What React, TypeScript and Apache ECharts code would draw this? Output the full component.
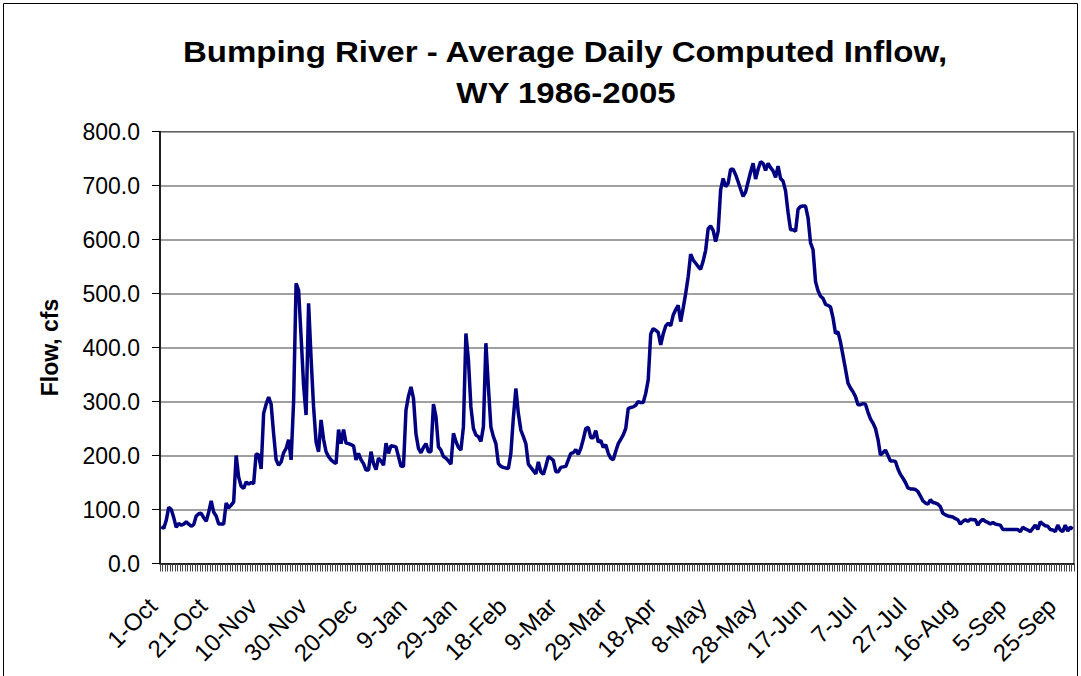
import React, { useEffect, useRef } from "react";
import * as echarts from "echarts";

const monthNames = ["Oct", "Nov", "Dec", "Jan", "Feb", "Mar", "Apr", "May", "Jun", "Jul", "Aug", "Sep"];
const monthDays = [31, 30, 31, 31, 29, 31, 30, 31, 30, 31, 31, 30];

const categories: string[] = [];
monthNames.forEach((m, i) => {
  for (let d = 1; d <= monthDays[i]; d++) categories.push(`${d}-${m}`);
});

const flowOct = [68, 65, 80, 104, 100, 85, 67, 74, 71, 73, 77, 73, 69, 72, 88, 92, 93, 85, 78, 95, 116, 95, 88, 73, 73, 73, 112, 103, 108, 114, 200];
const flowNov = [160, 143, 139, 151, 147, 150, 148, 203, 201, 175, 278, 295, 308, 295, 240, 192, 182, 188, 205, 213, 229, 192, 300, 519, 506, 420, 330, 275, 482, 380];
const flowDec = [290, 225, 207, 266, 230, 207, 198, 192, 188, 185, 248, 222, 248, 223, 222, 220, 218, 192, 204, 192, 185, 173, 173, 207, 185, 174, 195, 190, 182, 223, 204];
const flowJan = [218, 217, 216, 198, 180, 180, 284, 310, 327, 306, 240, 213, 205, 215, 222, 207, 207, 295, 272, 216, 210, 198, 195, 190, 184, 241, 226, 215, 210, 253, 426];
const flowFeb = [377, 290, 250, 238, 235, 226, 253, 408, 327, 253, 235, 222, 185, 180, 178, 177, 176, 204, 270, 324, 278, 247, 235, 222, 184, 178, 172, 166, 188];
const flowMar = [170, 165, 180, 198, 195, 191, 170, 170, 178, 179, 180, 192, 204, 205, 211, 202, 213, 230, 250, 252, 233, 233, 246, 225, 228, 215, 220, 204, 195, 192, 208];
const flowApr = [222, 230, 238, 250, 287, 289, 290, 293, 300, 298, 298, 315, 340, 425, 435, 432, 428, 405, 425, 440, 445, 440, 460, 470, 478, 448, 473, 500, 531, 573];
const flowMay = [562, 556, 550, 545, 560, 580, 620, 625, 617, 596, 615, 692, 713, 698, 704, 730, 730, 720, 707, 693, 680, 688, 707, 725, 741, 712, 730, 744, 741, 728, 741];
const flowJun = [733, 727, 715, 736, 713, 708, 690, 650, 618, 618, 615, 656, 661, 662, 662, 640, 594, 581, 522, 505, 495, 491, 480, 478, 475, 455, 426, 429, 410, 385];
const flowJul = [360, 334, 325, 318, 309, 294, 294, 296, 295, 280, 268, 260, 250, 230, 201, 205, 210, 200, 190, 190, 189, 175, 165, 158, 150, 140, 138, 138, 137, 133, 125];
const flowAug = [116, 112, 110, 118, 113, 112, 110, 105, 93, 90, 88, 87, 86, 83, 81, 73, 78, 81, 78, 82, 81, 81, 71, 78, 82, 78, 76, 73, 76, 73, 72];
const flowSep = [71, 63, 63, 63, 63, 63, 63, 63, 59, 67, 64, 62, 59, 65, 71, 63, 77, 73, 70, 69, 63, 62, 59, 71, 62, 59, 71, 60, 67, 64];

const flow = [
  ...flowOct, ...flowNov, ...flowDec, ...flowJan, ...flowFeb, ...flowMar,
  ...flowApr, ...flowMay, ...flowJun, ...flowJul, ...flowAug, ...flowSep,
];

const titleLine1 = "Bumping River - Average Daily Computed Inflow,";
const titleLine2 = "WY 1986-2005";
const yAxisName = "Flow, cfs";

export default function App() {
  const ref = useRef<HTMLDivElement>(null);
  useEffect(() => {
    if (!ref.current) return;
    const chart = echarts.init(ref.current, null, { renderer: "svg" });
    const font = "'Liberation Sans', Arial, sans-serif";
    const titleFont = `bold 30px ${font}`;
    chart.setOption({
      animation: false,
      backgroundColor: "#ffffff",
      graphic: [
        {
          type: "rect",
          shape: { x: 3.5, y: 3.5, width: 1074, height: 700 },
          style: { fill: "none", stroke: "#000", lineWidth: 1 },
          silent: true,
        },
        {
          type: "text",
          x: 565,
          y: 52,
          scaleX: 1.1,
          style: { text: titleLine1, font: titleFont, fill: "#000", align: "center", verticalAlign: "middle" },
          silent: true,
        },
        {
          type: "text",
          x: 566,
          y: 93,
          scaleX: 1.1,
          style: { text: titleLine2, font: titleFont, fill: "#000", align: "center", verticalAlign: "middle" },
          silent: true,
        },
      ],
      grid: {
        left: 160,
        right: 7,
        top: 131.5,
        bottom: 112.5,
        show: true,
        borderColor: "#000",
        borderWidth: 1,
        backgroundColor: "transparent",
      },
      xAxis: {
        type: "category",
        data: categories,
        boundaryGap: true,
        axisLine: { show: true, lineStyle: { color: "#000", width: 1.5 } },
        axisTick: { show: true, interval: 0, length: 8, inside: false, lineStyle: { color: "#444", width: 1 } },
        axisLabel: {
          interval: 19,
          rotate: 45,
          margin: 30,
          padding: [0, 12, 0, 0],
          fontFamily: font,
          fontSize: 24,
          color: "#000",
        },
        splitLine: { show: false },
      },
      yAxis: {
        type: "value",
        min: 0,
        max: 800,
        interval: 100,
        name: yAxisName,
        nameLocation: "middle",
        nameGap: 99,
        nameTextStyle: { fontFamily: font, fontSize: 23, fontWeight: "bold", color: "#000" },
        axisLine: { show: true, lineStyle: { color: "#000", width: 1.5 } },
        axisTick: { show: true, length: 8, lineStyle: { color: "#000" } },
        axisLabel: {
          formatter: (v: number) => v.toFixed(1),
          fontFamily: font,
          fontSize: 23,
          color: "#000",
          margin: 20,
        },
        splitLine: { show: true, lineStyle: { color: "#808080", width: 1.5 } },
      },
      series: [
        {
          type: "line",
          data: flow,
          showSymbol: false,
          symbol: "none",
          lineStyle: { color: "#000080", width: 3.5 },
          itemStyle: { color: "#000080" },
        },
      ],
    });
    return () => chart.dispose();
  }, []);
  return (
    <div
      ref={ref}
      style={{ position: "fixed", left: 0, top: 0, width: 1081, height: 676, background: "#fff" }}
    />
  );
}
